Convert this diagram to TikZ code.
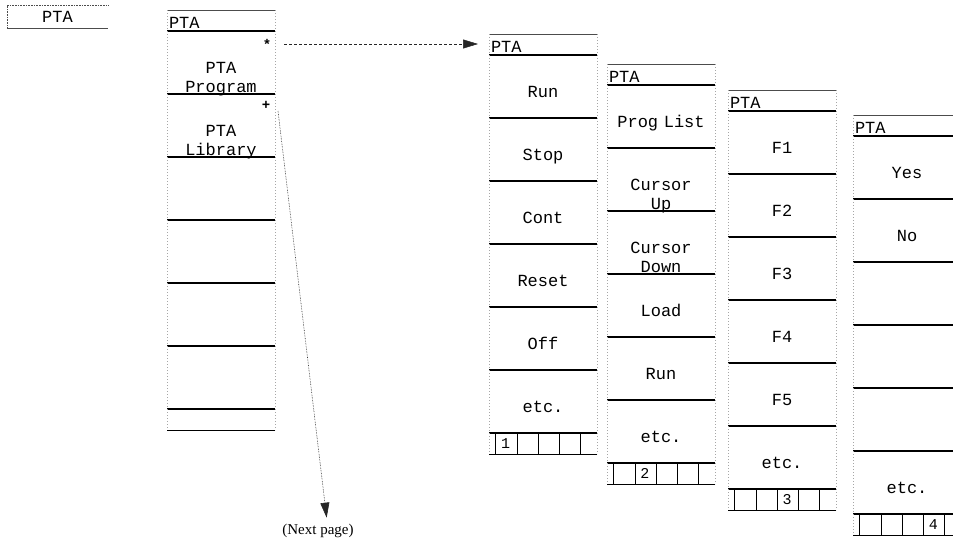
\documentclass[tikz,border=0pt]{standalone}
\usepackage{fontspec}
\usepackage{tikz}
\usetikzlibrary{matrix,arrows.meta}
\newfontfamily\keyfont{Liberation Mono}
\newfontfamily\notefont{Liberation Serif}
\tikzset{
menu/.style={
  matrix of nodes,
  row sep=0pt,
  inner sep=0pt,
  outer sep=0pt,
  anchor=north west,
  nodes={rectangle,inner xsep=2pt,inner ysep=0pt,outer sep=0pt,
    text width=104pt,align=center,
    text height=42pt,text depth=21pt,
    font=\keyfont\fontsize{17}{19}\selectfont},
  nodes in empty cells
},
row 1/.style={nodes={align=left,text height=18pt,text depth=3pt}},
row 8/.style={nodes={text height=16pt,text depth=5pt}},
rule/.style={line width=1.2pt},
topline/.style={line width=.6pt,gray!60!black},
side/.style={line width=.5pt,gray!70,dash pattern=on 1pt off 2pt},
tick/.style={line width=.6pt},
pagenum/.style={font=\keyfont\fontsize{15}{16}\selectfont,inner sep=0pt},
softmark/.style={font=\keyfont\bfseries\fontsize{14}{14}\selectfont,inner sep=1pt},
nav/.style={densely dashed,line width=.5pt,gray!30!black,
  -{Triangle[length=15pt,width=9pt]}},
navdown/.style={densely dotted,line width=.6pt,gray!30!black,
  -{Triangle[length=15pt,width=9pt]}}
}
\begin{document}
\begin{tikzpicture}[x=1pt,y=1pt]
\useasboundingbox (0,0) rectangle (953,-538);
% top level key
\node[font=\keyfont\fontsize{17}{19}\selectfont,minimum width=101pt,minimum height=23pt,inner sep=0pt]
  (home) at (57.5,-16.5) {PTA};
\draw[topline,densely dotted] (home.north east) -- (home.north west) -- (home.south west);
\draw[topline] (home.south west) -- (home.south east);
% the menus
\matrix (menu0) [menu] at (167,-10) {
  PTA \\ {PTA\\Program} \\ {PTA\\Library} \\ {} \\ {} \\ {} \\ {} \\ {} \\
};
\matrix (menu1) [menu] at (489,-34) {
  PTA \\ Run \\ Stop \\ Cont \\ Reset \\ Off \\ etc. \\ {} \\
};
\matrix (menu2) [menu] at (607,-64) {
  PTA \\ Prog List \\ {Cursor\\Up} \\ {Cursor\\Down} \\ Load \\ Run \\ etc. \\ {} \\
};
\matrix (menu3) [menu] at (728,-90) {
  PTA \\ F1 \\ F2 \\ F3 \\ F4 \\ F5 \\ etc. \\ {} \\
};
\matrix (menu4) [menu] at (853,-115) {
  PTA \\ Yes \\ No \\ {} \\ {} \\ {} \\ etc. \\ {} \\
};
% the menu rules
\foreach \m in {menu0,menu1,menu2,menu3,menu4}
{
  \draw[topline] (\m-1-1.north west) -- (\m-1-1.north east);
  \foreach \r in {1,...,7}
    \draw[rule] (\m-\r-1.south west) -- (\m-\r-1.south east);
  \draw[side] (\m-1-1.north west) -- (\m-8-1.south west);
  \draw[side] (\m-1-1.north east) -- (\m-8-1.south east);
  \draw[tick] (\m-8-1.south west) -- (\m-8-1.south east);
}
% page bars
\foreach \m/\k in {menu1/1,menu2/2,menu3/3,menu4/4}
{
  \foreach \d in {6,28,49,70,91}
    \draw[tick] ([xshift=\d pt]\m-8-1.north west) -- ([xshift=\d pt]\m-8-1.south west);
  \node[pagenum] (pg\k) at ([xshift={6pt+21.25pt*(\k-0.5)}]\m-8-1.west) {\k};
}
% arrows
\node[softmark] (star) at ([xshift=-8pt,yshift=-13pt]menu0-2-1.north east) {*};
\node[softmark] (more) at ([xshift=-9pt,yshift=-11pt]menu0-3-1.north east) {+};
\node[font=\notefont\fontsize{15}{18}\selectfont] (nextpg) at (318,-531) {(Next page)};
\coordinate (drop) at ([xshift=12pt,yshift=-6pt]more.center);
\draw[nav,shorten <=12pt,shorten >=11pt] (star.east) -- (star.east -| menu1-1-1.west);
\draw[navdown,shorten >=3pt] (drop) -- ([xshift=9pt]nextpg.north);
\end{tikzpicture}
\end{document}
